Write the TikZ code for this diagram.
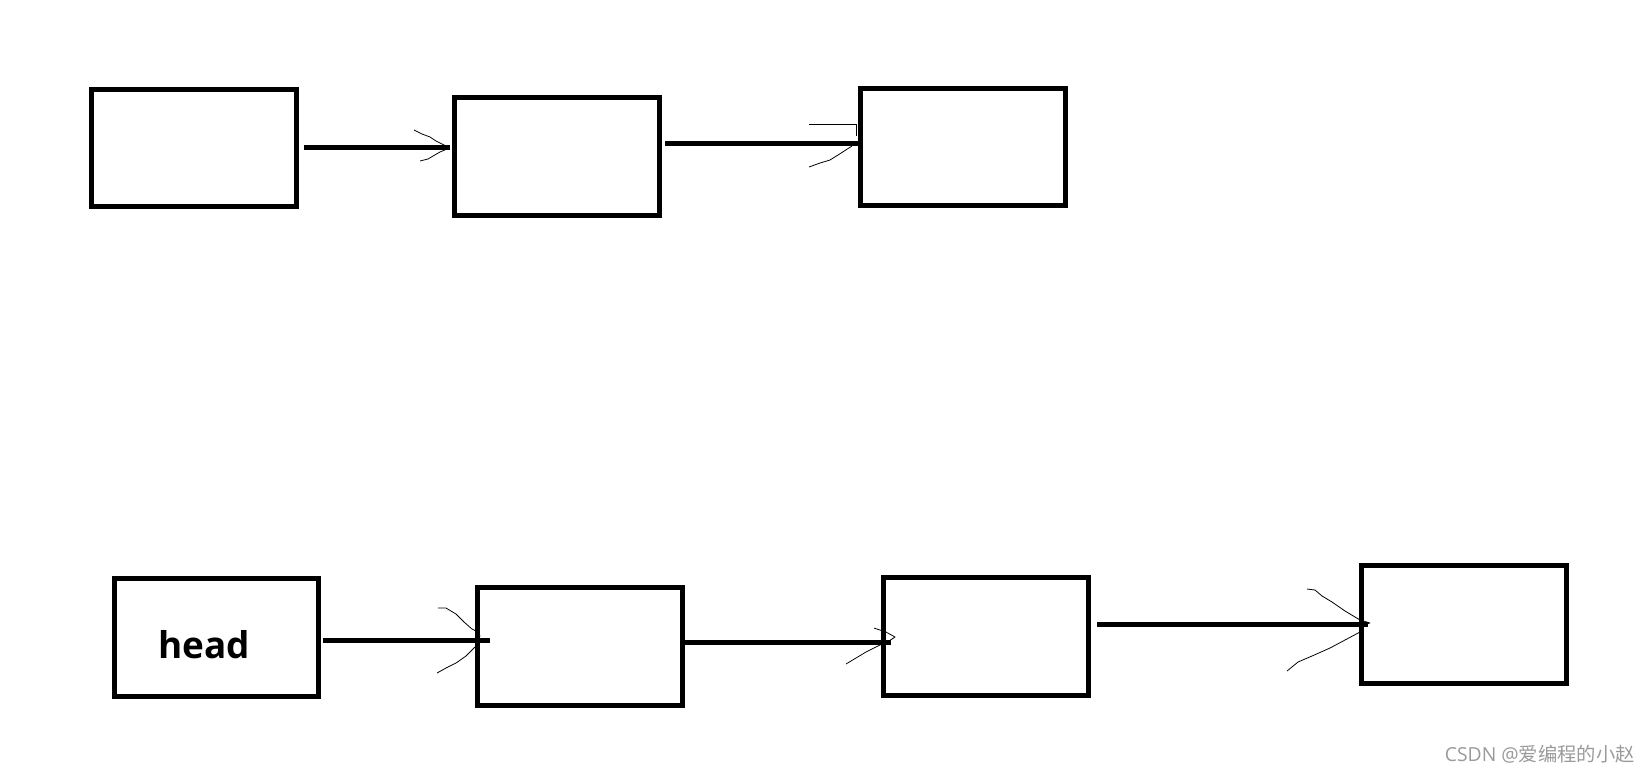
\documentclass[tikz,border=0pt]{standalone}
\usepackage{fontspec}
\setsansfont{Open Sans}
\newfontfamily\cjk{Noto Sans CJK SC}
\usetikzlibrary{positioning}
\definecolor{ink}{HTML}{000000}
\definecolor{wmgray}{HTML}{9A9A9A}

\begin{document}
\begin{tikzpicture}[
  x=0.02cm, y=-0.02cm,
  box/.style={draw=ink, line width=0.1cm, fill=white, inner sep=0pt,
    minimum width=4.1cm, minimum height=2.36cm},
  link/.style={draw=ink, line width=0.1cm},
  scrib/.style={draw=ink, line width=0.45pt, line join=round},
  headlbl/.style={font=\sffamily\bfseries\fontsize{21}{25}\selectfont, text=ink, inner sep=0pt},
]
\useasboundingbox (0,0) rectangle (1648,772);

% === Top list ===
\node[box] (n1) at (194,148) {};
\node[box] (n2) at (557,156.5) {};
\node[box] (n3) at (963,147) {};

\coordinate (s1) at (304,147);  \coordinate (e1) at (450,147);
\coordinate (s2) at (665,143);  \coordinate (e2) at (860,143);
\draw[link] (s1) -- (e1);
\draw[link] (s2) -- (e2);

% hand drawn tips
\draw[scrib] (414,130) -- (422,134) -- (430,137) -- (436,141) -- (446,146);
\draw[scrib] (420,161) -- (428,159) -- (433,156) -- (440,152) -- (447,149);
\draw[scrib] (809,124) -- (856,124) -- (856,136);
\draw[scrib] (809,167) -- (820,163) -- (830,160) -- (838,155) -- (852,146);

% === Bottom list ===
\node[box] (m1) at (216.5,637) {};
\node[headlbl] (hd) at (204,645) {head};
\node[box] (m2) at (580,646) {};
\node[box] (m3) at (986,636) {};
\node[box] (m4) at (1464,624) {};

\coordinate (s3) at (323,640);  \coordinate (e3) at (490,640);
\coordinate (s4) at (681,642);  \coordinate (e4) at (891,642);
\coordinate (s5) at (1097,624); \coordinate (e5) at (1368,624);
\draw[link] (s3) -- (e3);
\draw[link] (s4) -- (e4);
\draw[link] (s5) -- (e5);

% hand drawn tips
\draw[scrib] (438,608) -- (446,608) -- (456,614) -- (464,622) -- (472,629) -- (478,632) -- (480,636) -- (477,638);
\draw[scrib] (437,673) -- (446,668) -- (456,663) -- (466,656) -- (472,650) -- (475,647);
\draw[scrib] (874,628) -- (886,632) -- (895,637) -- (889,641);
\draw[scrib] (846,664) -- (856,658) -- (866,652) -- (878,646) -- (888,641);
\draw[scrib] (1307,589) -- (1315,590) -- (1322,596) -- (1332,602) -- (1345,611) -- (1360,620) -- (1370,623) -- (1361,625);
\draw[scrib] (1287,671) -- (1298,662) -- (1312,656) -- (1330,648) -- (1345,640) -- (1360,632);

% watermark
\node[font=\fontsize{11}{13}\selectfont, text=wmgray, anchor=east, inner sep=0pt] (wm) at (1635,754)
  {\sffamily CSDN @\cjk 爱编程的小赵};
\end{tikzpicture}
\end{document}
